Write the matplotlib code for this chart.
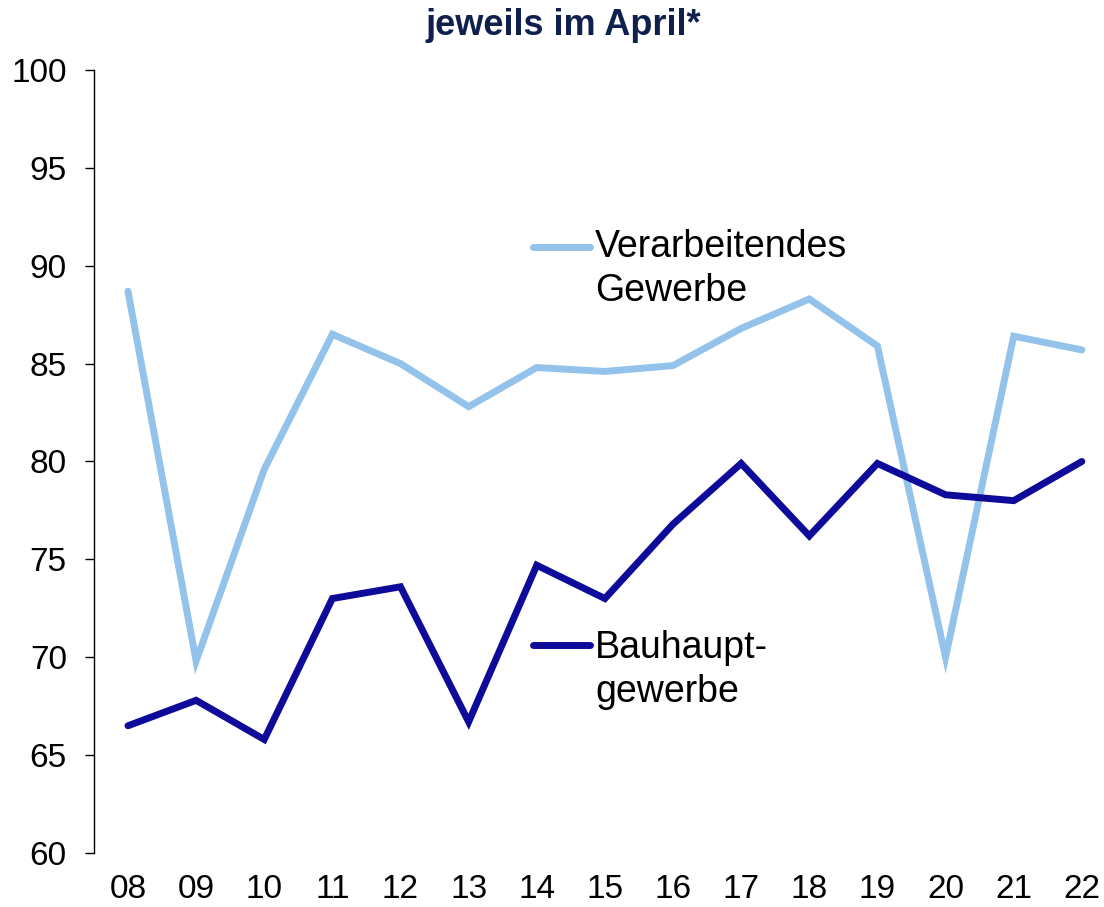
import matplotlib
matplotlib.use("Agg")
import matplotlib.pyplot as plt
from matplotlib.lines import Line2D

plt.rcParams['font.family'] = ['Liberation Sans', 'DejaVu Sans']

# Jahre (April) und Werte
years = ["08", "09", "10", "11", "12", "13", "14", "15", "16", "17", "18", "19", "20", "21", "22"]
verarbeitendes = [88.7, 69.8, 79.6, 86.5, 85.0, 82.8, 84.8, 84.6, 84.9, 86.8, 88.3, 85.9, 70.0, 86.4, 85.7]
bau = [66.5, 67.8, 65.8, 73.0, 73.6, 66.7, 74.7, 73.0, 76.8, 79.9, 76.2, 79.9, 78.3, 78.0, 80.0]

light = "#93C3EA"
dark = "#0E0A9A"
lw = 5.0

fig = plt.figure(figsize=(11.04, 9.07), dpi=100)
ax = fig.add_axes([93.9 / 1104, 1 - 853 / 907, 1022 / 1104, 783 / 907])

x = list(range(len(years)))
ax.plot(x, verarbeitendes, color=light, lw=lw, solid_joinstyle='miter', solid_capstyle='round')
ax.plot(x, bau, color=dark, lw=lw, solid_joinstyle='miter', solid_capstyle='round')

ax.set_xlim(-0.5, 14.5)
ax.set_ylim(60, 100)
ax.set_yticks(range(60, 101, 5))
ax.set_xticks(x)
ax.set_xticklabels(years)

for s in ["top", "right", "bottom"]:
    ax.spines[s].set_visible(False)
ax.spines["left"].set_linewidth(1.0)
ax.tick_params(axis="y", direction="out", length=6.5, width=1.0, labelsize=24, pad=13)
ax.tick_params(axis="x", length=0, labelsize=24, pad=15)

# eigene Legende
for yy, ty, col, lab in [(0.7743, 0.7965, light, "Verarbeitendes\nGewerbe"),
                         (0.2656, 0.2845, dark, "Bauhaupt-\ngewerbe")]:
    ax.add_line(Line2D([0.4297, 0.4854], [yy, yy], transform=ax.transAxes,
                       color=col, lw=lw, solid_capstyle='round'))
    ax.text(0.4903, ty, lab, transform=ax.transAxes, fontsize=27,
            va="top", ha="left", linespacing=1.28)

fig.text(0.5104, 1 - 35 / 907, "jeweils im April*", ha="center", va="baseline",
         fontsize=26, fontweight="bold", color="#0F1F4E")

fig.savefig("out.png", dpi=100)
